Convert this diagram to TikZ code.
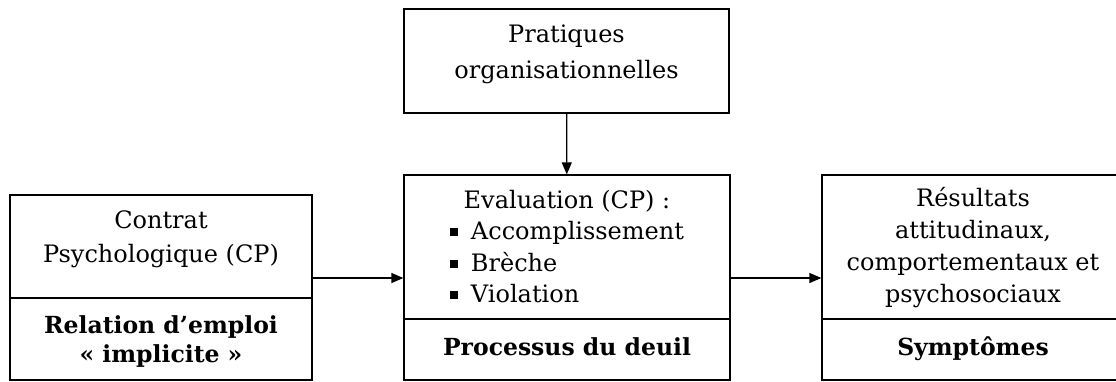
\documentclass[tikz,border=0pt]{standalone}
\usepackage{fontspec}
\setmainfont{DejaVu Serif}
\usetikzlibrary{arrows.meta}

\newcommand{\sqbullet}{\raisebox{3.5pt}{\rule{8pt}{8pt}}\hspace{13pt}}

\begin{document}
\begin{tikzpicture}
  [x=1pt,y=-1pt,
   every node/.style={draw,line width=1.3pt,inner sep=0pt,align=center,text height=17pt,text depth=6pt,font=\fontsize{24}{32}\selectfont},
   lower/.style={font=\fontsize{23.5}{29}\selectfont\bfseries},
   arr/.style={line width=1.3pt,-{Triangle[length=12pt,width=10pt]}}]
  \clip [use as bounding box] (0,0) rectangle (1116,381);
  \node [text height=40pt,font=\fontsize{24}{36}\selectfont,minimum width=325,minimum height=104] (prat) at (566.5,61) {Pratiques\\organisationnelles};
  \node [text height=37pt,font=\fontsize{24}{34}\selectfont,minimum width=302,minimum height=103] (cp) at (161,246.5) {Contrat\\Psychologique (CP)};
  \node [lower,text height=52pt,minimum width=302,minimum height=82] (rel) at (161,339) {Relation d'emploi\\« implicite »};
  \node [text depth=32pt,font=\fontsize{24}{31.5}\selectfont,minimum width=326,minimum height=144] (eval) at (567,247)
    {Evaluation (CP) :\\
     \begin{tabular}[t]{@{}l@{}}\sqbullet Accomplissement\\ \sqbullet Brèche\\ \sqbullet Violation\end{tabular}};
  \node [lower,minimum width=326,minimum height=61] (deuil) at (567,349.5) {Processus du deuil};
  \node [text height=116pt,font=\fontsize{24}{31.7}\selectfont,minimum width=302,minimum height=144] (res) at (973,247)
    {Résultats\\attitudinaux,\\comportementaux et\\psychosociaux};
  \node [lower,minimum width=302,minimum height=61] (sympt) at (973,349.5) {Symptômes};
  \coordinate (mid) at ([yshift=-31pt]eval.center);

  \foreach \from/\to in {cp/eval,eval/res}
    \draw [arr] (\from.east |- mid) -- (\to.west |- mid);
  \draw [arr] (prat) -- (eval);

\end{tikzpicture}
\end{document}
